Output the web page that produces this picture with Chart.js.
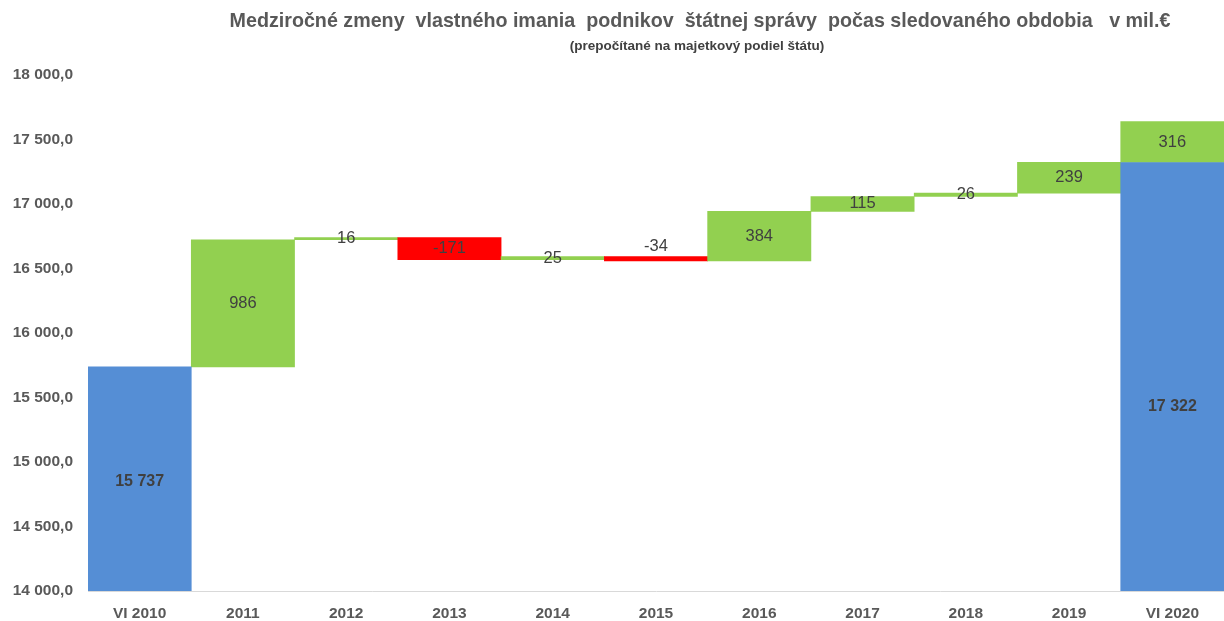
<!DOCTYPE html>
<html>
<head>
<meta charset="utf-8">
<script src="https://cdn.jsdelivr.net/npm/chart.js@4"></script>
<style>
  html, body { margin: 0; padding: 0; background: #fff; }
  #wrap { position: relative; width: 1224px; height: 621px; }
  #title {
    position: absolute; left: 200px; width: 1000px; top: 9px; text-align: center;
    font: bold 19.7px 'Liberation Sans', sans-serif; color: #595959;
  }
  #subtitle {
    position: absolute; left: 200px; width: 994px; top: 38px; text-align: center;
    font: bold 13.5px 'Liberation Sans', sans-serif; color: #404040;
  }
</style>
</head>
<body>
<div id="wrap">
  <canvas id="chart" width="1224" height="621"></canvas>
  <div id="title">Medziročné zmeny&nbsp; vlastného imania&nbsp; podnikov&nbsp; štátnej správy&nbsp; počas sledovaného obdobia&nbsp;&nbsp; v mil.€</div>
  <div id="subtitle">(prepočítané na majetkový podiel štátu)</div>
</div>
<script>
// Waterfall data (mil. €)
const categories = ['VI 2010', '2011', '2012', '2013', '2014', '2015', '2016', '2017', '2018', '2019', 'VI 2020'];
const totals = [15737, null, null, null, null, null, null, null, null, null, 17322];
const changes = [null, 986, 16, -171, 25, -34, 384, 115, 26, 239, 316];
const yTicks = [14000, 14500, 15000, 15500, 16000, 16500, 17000, 17500, 18000];

const BLUE = '#558ED5';
const GREEN = '#92D050';
const RED = '#FF0000';

// floating bars for the changes, starting from the running total
const floats = [];
let running = 0;
categories.forEach((c, i) => {
  if (totals[i] !== null) running = totals[i];
  if (changes[i] !== null) {
    floats.push([running, running + changes[i]]);
    running += changes[i];
  } else {
    floats.push(null);
  }
});

function groupThousands(n) {
  const s = String(Math.abs(Math.round(n)));
  const g = s.replace(/\B(?=(\d{3})+(?!\d))/g, ' ');
  return (n < 0 ? '-' : '') + g;
}

function formatTick(v) {
  return groupThousands(Math.floor(v)) + ',0';
}

// draws the value labels in the middle of each bar
const labelPlugin = {
  id: 'barLabels',
  afterDatasetsDraw(chart) {
    const ctx = chart.ctx;
    ctx.save();
    ctx.textAlign = 'center';
    ctx.textBaseline = 'middle';
    chart.data.datasets.forEach((ds, di) => {
      const meta = chart.getDatasetMeta(di);
      meta.data.forEach((bar, i) => {
        const raw = ds.data[i];
        if (raw === null || raw === undefined) return;
        const props = bar.getProps(['x', 'y', 'base'], true);
        let y = (props.y + props.base) / 2;
        let text;
        if (di === 0) {
          ctx.font = 'bold 16px "Liberation Sans", sans-serif';
          ctx.fillStyle = '#404040';
          text = groupThousands(raw);
          // Excel centres these over the visible part of the bar
          y = chart.scales.y.getPixelForValue(i === 0 ? 14850 : 15430);
        } else {
          ctx.font = '16.5px "Liberation Sans", sans-serif';
          ctx.fillStyle = '#404040';
          text = String(changes[i]);
          if (changes[i] === -34) y -= 12;
        }
        ctx.fillText(text, props.x, y);
      });
    });
    ctx.restore();
  }
};

new Chart(document.getElementById('chart'), {
  type: 'bar',
  data: {
    labels: categories,
    datasets: [
      {
        label: 'Stav',
        data: totals,
        backgroundColor: BLUE,
        barPercentage: 1,
        categoryPercentage: 1
      },
      {
        label: 'Zmena',
        data: floats,
        backgroundColor: changes.map(c => (c !== null && c < 0) ? RED : GREEN),
        barPercentage: 1,
        categoryPercentage: 1
      }
    ]
  },
  options: {
    responsive: false,
    animation: false,
    layout: { padding: { top: 75, left: 6, right: 0, bottom: 0 } },
    plugins: {
      legend: { display: false },
      tooltip: { enabled: false }
    },
    scales: {
      x: {
        stacked: true,
        grid: { display: false, tickLength: 0 },
        border: { display: true, color: '#D9D9D9', width: 1 },
        afterFit(scale) { scale.height = 30; },
        ticks: {
          color: '#595959',
          padding: 13,
          font: { family: 'Liberation Sans', size: 15.5, weight: 'bold' }
        }
      },
      y: {
        stacked: false,
        min: 14000,
        max: 18000,
        grid: { display: false, tickLength: 0 },
        border: { display: false },
        afterFit(scale) { scale.width = 82; },
        afterBuildTicks(scale) { scale.ticks = yTicks.map(v => ({ value: v })); },
        ticks: {
          color: '#595959',
          padding: 15,
          font: { family: 'Liberation Sans', size: 15.5, weight: 'bold' },
          callback: v => formatTick(v)
        }
      }
    }
  },
  plugins: [labelPlugin]
});
</script>
</body>
</html>
